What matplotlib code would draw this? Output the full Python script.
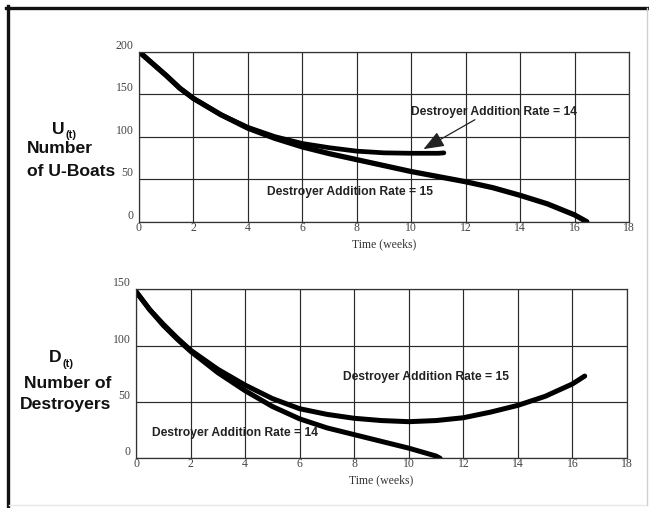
import matplotlib
matplotlib.use("Agg")
import matplotlib.pyplot as plt
from matplotlib.lines import Line2D

# ---- data ----
u_t15 = [0, 0.5, 1, 1.5, 2, 3, 4, 5, 6, 7, 8, 9, 10, 11, 12, 13, 14, 15, 16, 16.45]
u_r15 = [200, 186, 172, 157, 145, 126, 110, 98, 88, 80, 73, 66, 59, 53, 47, 40, 31, 21, 8, 0]
u_t14 = [0, 0.5, 1, 1.5, 2, 3, 4, 5, 6, 7, 8, 9, 10, 11, 11.2]
u_r14 = [200, 186, 172, 157, 145, 126, 111, 100, 92, 87, 83, 81, 80.5, 80.5, 81]

d_t14 = [0, 0.5, 1, 1.5, 2, 3, 4, 5, 6, 7, 8, 9, 10, 11, 11.15]
d_r14 = [148, 132, 118, 106, 95, 76, 60, 46, 35, 27, 21, 15, 9, 2, 0]
d_t15 = [0, 0.5, 1, 1.5, 2, 3, 4, 5, 6, 7, 8, 9, 10, 11, 12, 13, 14, 15, 16, 16.45]
d_r15 = [148, 132, 119, 107, 96, 79, 65, 53, 44, 39, 35.5, 33.5, 32.5, 33.5, 36, 41, 47, 55, 66, 73]

x_ticks = [0, 2, 4, 6, 8, 10, 12, 14, 16, 18]
u_ticks = [0, 50, 100, 150, 200]
d_ticks = [0, 50, 100, 150]
xlabel = "Time (weeks)"
lab14 = "Destroyer Addition Rate = 14"
lab15 = "Destroyer Addition Rate = 15"

W, H = 649, 508
fig = plt.figure(figsize=(W / 100, H / 100), dpi=100)
fig.patch.set_facecolor("white")

serif = "Liberation Serif"
sans = "Liberation Sans"

def px(x, y):
    return x / W, 1 - y / H

def style(ax, yticks, ymax):
    ax.set_xlim(0, 18)
    ax.set_ylim(0, ymax)
    ax.set_xticks(x_ticks)
    ax.set_yticks(yticks)
    ax.grid(True, color="#2a2a2a", linewidth=0.85)
    ax.set_axisbelow(True)
    for s in ax.spines.values():
        s.set_color("#333333")
        s.set_linewidth(0.9)
    ax.tick_params(axis="x", length=0, pad=0, labelsize=8.5, labelcolor="#444444")
    ax.tick_params(axis="y", length=0, pad=4, labelsize=8.5, labelcolor="#444444")
    for lab in ax.get_xticklabels() + ax.get_yticklabels():
        lab.set_fontfamily(serif)
    for lab in ax.get_yticklabels():
        lab.set_verticalalignment("bottom")
    ax.set_xlabel(xlabel, fontfamily=serif, fontsize=8.5, color="#333333", labelpad=3)

# top panel
ax1 = fig.add_axes([139 / W, 1 - 221.7 / H, (629 - 139) / W, (221.7 - 51.7) / H])
style(ax1, u_ticks, 200)
ax1.plot(u_t14, u_r14, color="black", linewidth=3.4, solid_capstyle="round")
ax1.plot(u_t15, u_r15, color="black", linewidth=3.8, solid_capstyle="round")
ax1.text(10.0, 128.5, lab14, fontfamily=sans, fontweight="bold", fontsize=8.7,
         color="#222222", va="center", ha="left")
ax1.text(4.72, 34.7, lab15, fontfamily=sans, fontweight="bold", fontsize=8.7,
         color="#222222", va="center", ha="left")
ax1.annotate("", xy=(10.45, 85.4), xytext=(12.34, 120),
             arrowprops=dict(arrowstyle="-|>,head_length=0.9,head_width=0.35",
                             color="#222222", lw=0.9, mutation_scale=14,
                             shrinkA=0, shrinkB=0))

# bottom panel
ax2 = fig.add_axes([136 / W, 1 - 458.3 / H, (627 - 136) / W, (458.3 - 289.3) / H])
style(ax2, d_ticks, 150)
ax2.plot(d_t14, d_r14, color="black", linewidth=3.6, solid_capstyle="round")
ax2.plot(d_t15, d_r15, color="black", linewidth=3.6, solid_capstyle="round")
ax2.text(7.6, 71.9, lab15, fontfamily=sans, fontweight="bold", fontsize=8.7,
         color="#222222", va="center", ha="left")
ax2.text(0.58, 22.2, lab14, fontfamily=sans, fontweight="bold", fontsize=8.7,
         color="#222222", va="center", ha="left")

# y-axis titles
def ytitle(rx, cy, main, sub, sub_dy, lines):
    x, y = px(rx, cy)
    fig.text(x, y, main, fontfamily=sans, fontweight="bold", fontsize=12.6,
             ha="right", va="center", color="#111111")
    fig.text(x + 0.5 / W, y - sub_dy / H, sub, fontfamily=sans, fontweight="bold",
             fontsize=8.0, ha="left", va="center", color="#111111")
    for (lx, ly, txt) in lines:
        xx, yy = px(lx, ly)
        fig.text(xx, yy, txt, fontfamily=sans, fontweight="bold", fontsize=12.6,
                 ha="center", va="center", color="#111111")

ytitle(65, 129, "U", "(t)", 6, [(60, 149, "Number"), (71, 171, "of U-Boats")])
ytitle(62, 358, "D", "(t)", 6, [(68, 383, "Number of"), (66, 405, "Destroyers")])

# outer frame
fig.add_artist(Line2D([7.5 / W, 7.5 / W], [1 - 6 / H, 1 - 507 / H], color="#111111",
                      linewidth=2.4, transform=fig.transFigure))
fig.add_artist(Line2D([6 / W, 647 / W], [1 - 7.5 / H, 1 - 7.5 / H], color="#111111",
                      linewidth=2.4, transform=fig.transFigure))
fig.add_artist(Line2D([646.5 / W, 646.5 / W], [1 - 8 / H, 1 - 505 / H], color="#d0d0d0",
                      linewidth=1.0, transform=fig.transFigure))
fig.add_artist(Line2D([9 / W, 646 / W], [1 - 505 / H, 1 - 505 / H], color="#e8e8e8",
                      linewidth=1.0, transform=fig.transFigure))

fig.savefig("out.png", dpi=100, facecolor="white")
